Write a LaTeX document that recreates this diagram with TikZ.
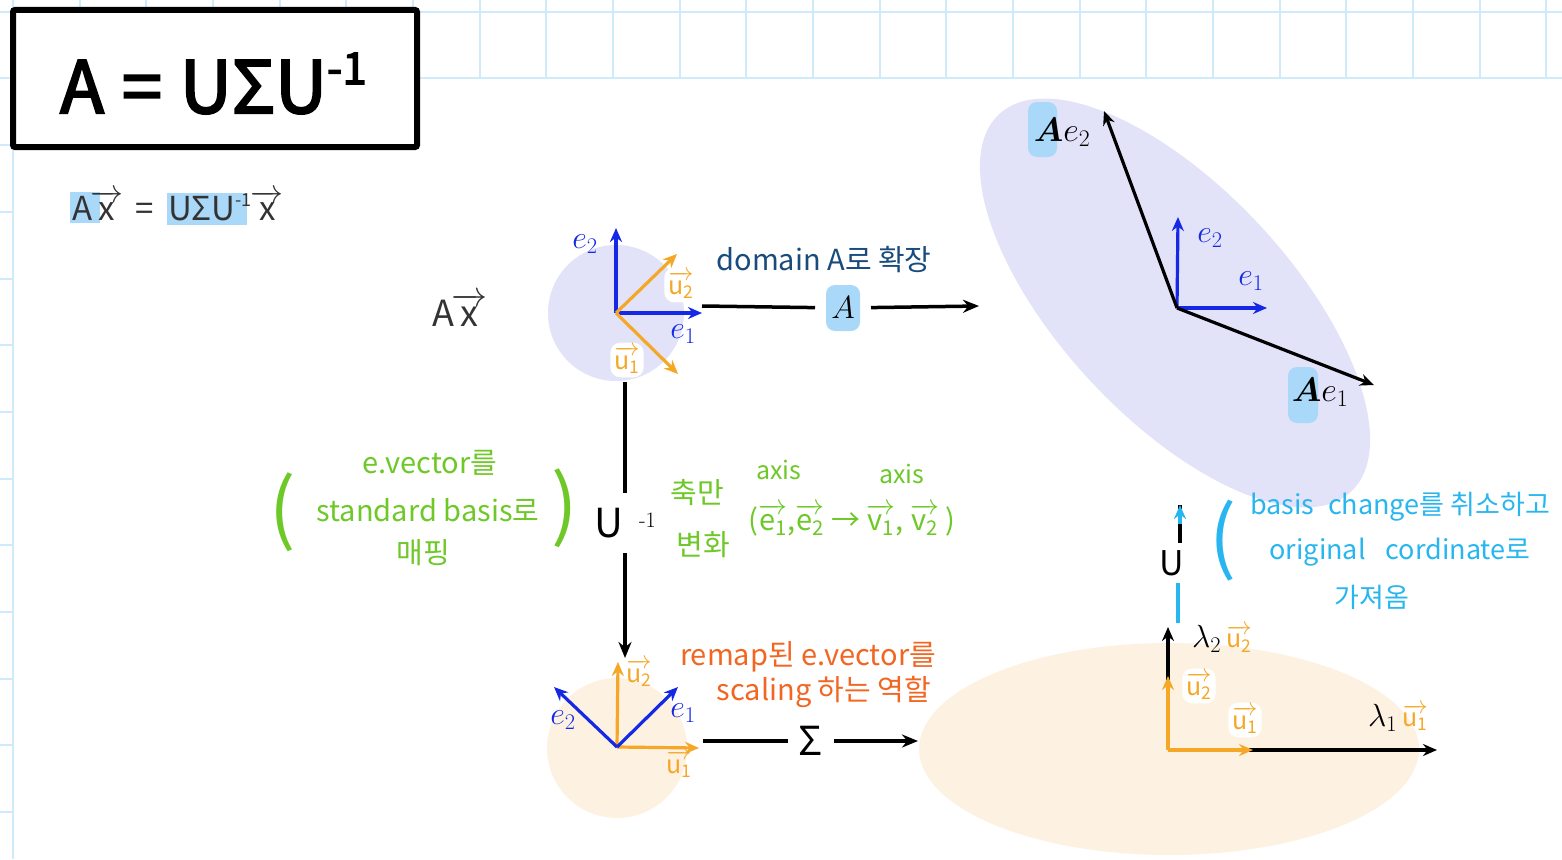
\RequirePackage{fix-cm}
\documentclass[tikz,border=0pt]{standalone}
\usepackage{amsmath}
\usepackage{fontspec}
\usetikzlibrary{arrows.meta}
\newfontfamily\hand{Noto Sans CJK KR}
\newfontfamily\handbold[FakeBold=3]{Noto Sans CJK KR}
\definecolor{gridc}{RGB}{207,234,250}
\definecolor{lav}{RGB}{226,226,248}
\definecolor{peach}{RGB}{253,242,226}
\definecolor{vblue}{RGB}{20,40,230}
\definecolor{vorange}{RGB}{245,168,40}
\definecolor{hl}{RGB}{170,216,248}
\definecolor{navy}{RGB}{25,75,125}
\definecolor{pgreen}{RGB}{110,200,40}
\definecolor{porange}{RGB}{242,102,34}
\definecolor{pcyan}{RGB}{40,182,240}
\definecolor{ink}{RGB}{51,51,51}
\newcommand\hv[2]{$\overrightarrow{\text{#1}_{\text{#2}}}$}
\newcommand\hx{$\overrightarrow{\text{x}}$}
\begin{document}
\begin{tikzpicture}[x=1pt,y=-1pt,
  gridline/.style={draw=gridc,line width=2},
  vecline/.style={line width=3.2,-{Stealth[length=14,width=12]}},
  bvec/.style={vecline,draw=vblue},
  ovec/.style={vecline,draw=vorange},
  kvec/.style={vecline,draw=black},
  conn/.style={line width=3.5,draw=black},
  mlab/.style={inner sep=0,font=\fontsize{32}{32}\selectfont},
  blab/.style={mlab,text=vblue},
  olab/.style={inner sep=1,text=vorange,font=\hand\fontsize{25}{26}\selectfont},
  olabw/.style={olab,fill=white,rounded corners=10,inner sep=4},
  note/.style={inner sep=0,font=\hand\fontsize{29}{34}\selectfont},
  gnote/.style={note,text=pgreen},
  onote/.style={note,text=porange},
  cnote/.style={note,text=pcyan,font=\hand\fontsize{27}{32}\selectfont},
  inknote/.style={inner sep=0,text=ink,font=\hand\fontsize{33}{36}\selectfont}]
\useasboundingbox (0,0) rectangle (1562,859);
\fill[white] (0,0) rectangle (1562,859);
% grid margins
\foreach \k in {0,...,23} {\draw[gridline] ({13+66.67*\k},0) -- ({13+66.67*\k},78);}
\draw[gridline] (0,12) -- (1562,12);
\draw[gridline] (0,78) -- (1562,78);
\draw[gridline] (13,0) -- (13,859);
\foreach \k in {2,...,12} {\draw[gridline] (0,{12+66.67*\k}) -- (13,{12+66.67*\k});}
% title
\node[draw=black,line width=6,fill=white,rounded corners=2,minimum width=404,minimum height=137,inner sep=0] (title) at (215,78.5) {};
\node[anchor=base west,inner sep=0,font=\handbold\fontsize{72}{72}\selectfont] (ttext) at (60,113) {A\hspace{18pt}=\hspace{18pt}UΣU\raisebox{0.4em}{\fontsize{44}{44}\selectfont -1}};
% subtitle
\fill[hl] (70,192) rectangle (100,223);
\fill[hl] (167,193) rectangle (247,225);
\node[inknote,anchor=base west] (s1) at (72,220) {A\hspace{-2pt}\hx};
\node[inknote,anchor=base west] (s2) at (135,220) {=};
\node[inknote,anchor=base west] (s3) at (168,220) {UΣU\raisebox{0.4em}{\fontsize{18}{18}\selectfont -1}\hspace{-1pt}\hx};
\node[inknote,font=\hand\fontsize{36}{38}\selectfont] (ax) at (460,310) {A\hspace{-2pt}\hx};
% ---- top-left diagram
\fill[lav] (616,313) circle (68);
\coordinate (o1) at (616,313);
\coordinate (o1e2) at (616,228);
\coordinate (o1e1) at (702,313);
\coordinate (o1u2) at (677,254);
\coordinate (o1u1) at (678,374);
\draw[bvec] (o1) -- (o1e2);
\draw[bvec] (o1) -- (o1e1);
\draw[ovec] (o1) -- (o1u2);
\draw[ovec] (o1) -- (o1u1);
\node[blab] (l1e2) at (585,244) {$e_2$};
\node[blab] (l1e1) at (683,334) {$e_1$};
\node[olabw] (l1u2) at (681,285) {\hv{u}{2}};
\node[olabw] (l1u1) at (627,360) {\hv{u}{1}};
\node[note,text=navy] (dom) at (824,260) {domain A로 확장};
\coordinate (a1s) at (702,306);
\coordinate (a1e) at (979,306);
\node[fill=hl,rounded corners=9,minimum width=34,minimum height=46,inner sep=0,outer sep=11,font=\fontsize{32}{32}\selectfont] (Alab) at (843,308) {$A$};
\draw[conn] (a1s) -- (Alab);
\draw[conn,-{Stealth[length=16,width=13]}] (Alab) -- (a1e);
% ---- top-right diagram
\fill[lav,rotate around={-47:(1175,303)}] (1175,303) ellipse [x radius=258,y radius=115];
\coordinate (o2) at (1177,308);
\coordinate (o2e2) at (1178,217);
\coordinate (o2e1) at (1267,308);
\coordinate (o2a2) at (1104,111);
\coordinate (o2a1) at (1374,385);
\draw[bvec] (o2) -- (o2e2);
\draw[bvec] (o2) -- (o2e1);
\draw[kvec] (o2) -- (o2a2);
\draw[kvec] (o2) -- (o2a1);
\node[blab] (l2e2) at (1210,238) {$e_2$};
\node[blab] (l2e1) at (1251,281) {$e_1$};
\fill[hl,rounded corners=9] (1028,102) rectangle (1057,157);
\fill[hl,rounded corners=9] (1288,367) rectangle (1318,423);
\node[mlab,font=\fontsize{34}{34}\selectfont] (lae2) at (1062,132) {$\boldsymbol{A}e_2$};
\node[mlab,font=\fontsize{34}{34}\selectfont] (lae1) at (1320,392) {$\boldsymbol{A}e_1$};
% ---- U^-1 connector
\coordinate (v1s) at (625,382);
\coordinate (v1e) at (625,658);
\node[minimum height=60,inner sep=0] (Uinv) at (625,523) {{\hand\fontsize{40}{40}\selectfont U}\hspace{16pt}\raisebox{10pt}{\rmfamily\fontsize{22}{22}\selectfont -1}};
\draw[conn] (v1s) -- (Uinv);
\draw[conn,-{Stealth[length=16,width=13]}] (Uinv) -- (v1e);
% green notes
\node[gnote,font=\hand\fontsize{78}{78}\selectfont] (glp) at (283,512) {(};
\node[gnote] (g1) at (430,463) {e.vector를};
\node[gnote] (g2) at (428,510) {standard basis로};
\node[gnote] (g3) at (423,553) {매핑};
\node[gnote,font=\hand\fontsize{78}{78}\selectfont] (grp) at (565,508) {)};
\node[gnote] (g4) at (697,493) {축만};
\node[gnote] (g5) at (703,545) {변화};
\node[gnote,font=\hand\fontsize{25}{28}\selectfont] (g6) at (779,470) {axis};
\node[gnote,font=\hand\fontsize{25}{28}\selectfont] (g7) at (902,474) {axis};
\node[gnote] (g8) at (852,520) {(\hv{e}{1},\hv{e}{2} → \hv{v}{1}, \hv{v}{2} )};
% ---- bottom-left diagram
\fill[peach] (617,748) circle (70);
\coordinate (o3) at (617,747);
\coordinate (o3e1) at (678,687);
\coordinate (o3e2) at (554,687);
\coordinate (o3u2) at (618,662);
\coordinate (o3u1) at (699,748);
\draw[ovec] (o3) -- (o3u2);
\draw[ovec] (o3) -- (o3u1);
\draw[bvec] (o3) -- (o3e1);
\draw[bvec] (o3) -- (o3e2);
\node[blab] (l3e2) at (563,720) {$e_2$};
\node[blab] (l3e1) at (683,713) {$e_1$};
\node[olab] (l3u2) at (639,673) {\hv{u}{2}};
\node[olab] (l3u1) at (679,764) {\hv{u}{1}};
% sigma connector
\coordinate (s1s) at (703,741);
\coordinate (s1e) at (918,741);
\node[inner sep=0,outer sep=11,minimum height=40,font=\hand\fontsize{40}{40}\selectfont] (Sig) at (811,741) {Σ};
\draw[conn] (s1s) -- (Sig);
\draw[conn,-{Stealth[length=16,width=13]}] (Sig) -- (s1e);
\node[onote] (o1n) at (808,657) {remap된 e.vector를};
\node[onote] (o2n) at (824,692) {scaling 하는 역할};
% ---- bottom-right diagram
\fill[peach] (1169,749) ellipse [x radius=250,y radius=106];
\coordinate (o4) at (1168,750);
\coordinate (o4k2) at (1168,627);
\coordinate (o4k1) at (1437,750);
\coordinate (o4u2) at (1168,676);
\coordinate (o4u1) at (1253,750);
\draw[kvec] (o4) -- (o4k2);
\draw[kvec] (o4) -- (o4k1);
\draw[ovec] (o4) -- (o4u2);
\draw[ovec] (o4) -- (o4u1);
\node[mlab] (l4l2) at (1222,639) {$\lambda_2$\,\textcolor{vorange}{\hand\fontsize{25}{26}\selectfont\hv{u}{2}}};
\node[olabw] (l4u2) at (1199,686) {\hv{u}{2}};
\node[olabw] (l4u1) at (1245,720) {\hv{u}{1}};
\node[mlab] (l4l1) at (1398,718) {$\lambda_1$\,\textcolor{vorange}{\hand\fontsize{25}{26}\selectfont\hv{u}{1}}};
% ---- U connector
\coordinate (u4s) at (1178,623);
\coordinate (u4e) at (1180,505);
\node[inner sep=0,minimum height=40,font=\hand\fontsize{34}{34}\selectfont] (Ulab) at (1172,563) {U};
\draw[line width=3.5,draw=pcyan] (u4s) -- (u4s |- Ulab.south);
\draw[conn] (u4e |- Ulab.north) -- (u4e);
\draw[line width=3.5,draw=pcyan,-{Stealth[length=14,width=12]}] (1180,524) -- (u4e);
\node[cnote,font=\hand\fontsize{80}{80}\selectfont] (clp) at (1223,541) {(};
\node[cnote] (c1) at (1400,507) {basis\hspace{14pt}change를 취소하고};
\node[cnote] (c2) at (1400,552) {original\hspace{20pt}cordinate로};
\node[cnote] (c3) at (1372,597) {가져옴};
\end{tikzpicture}
\end{document}
